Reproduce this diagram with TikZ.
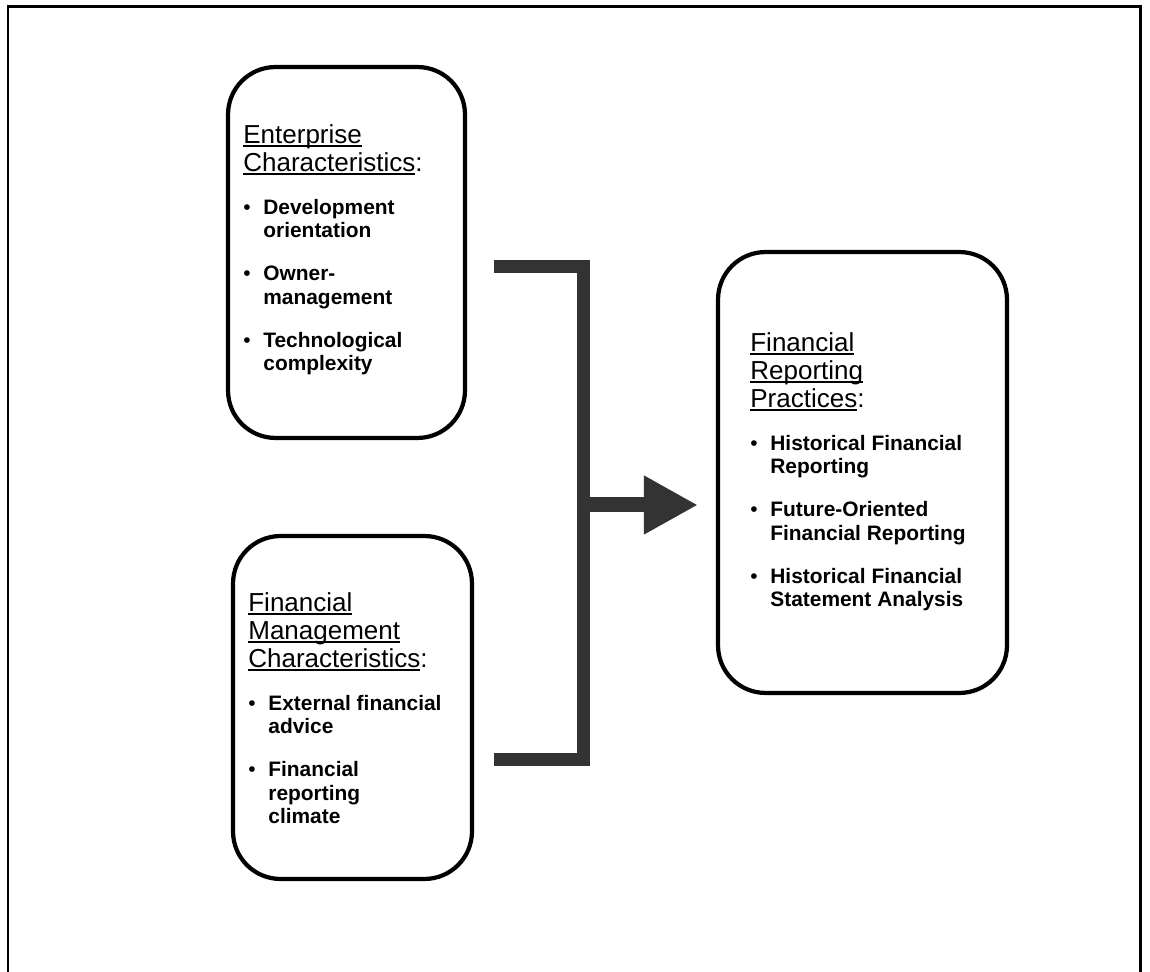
\documentclass[tikz,border=0pt]{standalone}
\usepackage{fontspec}
\setmainfont{Liberation Sans}
\usetikzlibrary{arrows.meta, positioning}
\setlength{\parindent}{0pt}
\newcommand{\hdfont}{\fontsize{14.8pt}{15.9pt}\selectfont}
\newcommand{\itfont}{\fontsize{11.9pt}{13.4pt}\selectfont\bfseries}
\newcommand{\hdul}[1]{\leavevmode\setbox0\hbox{#1}\rlap{\rule[-2.4pt]{\wd0}{1.1pt}}\box0}
\newcommand{\bitem}[1]{\par\vspace{11.1pt}\hangindent=11.4pt\hangafter=1\noindent\makebox[11.4pt][l]{\mdseries\textbullet}#1\par}

\begin{document}
\begin{tikzpicture}[
    x=0.02cm, y=-0.02cm,
    frame/.style={draw, line width=1.7pt},
    panel/.style={draw, rectangle, rounded corners=0.95cm, line width=2.4pt},
    paneltext/.style={anchor=north west, inner sep=0pt, align=left},
    bracket/.style={draw=black!80, line width=0.26cm},
    flow/.style={draw=black!80, line width=0.3cm, -{Triangle[length=1.08cm, width=1.1cm]}}
]
    \useasboundingbox (0,0) rectangle (1150,972);
    \draw[frame] (8,972) -- (8,7) -- (1140,7) -- (1140,972);

    % Boxes
    \node[panel, minimum width=4.74cm, minimum height=7.42cm] (entbox) at (346.5,252.5) {};
    \node[panel, minimum width=4.78cm, minimum height=6.86cm] (finbox) at (352.5,707.5) {};
    \node[panel, minimum width=5.78cm, minimum height=8.82cm] (repbox) at (862.5,472.5) {};

    % Texts
    \node[paneltext, text width=4.3cm] (enttext) at (243,124) {%
        {\hdfont\hdul{Enterprise}\newline\hdul{Characteristics}:\par}\itfont
        \bitem{Development\newline orientation}
        \bitem{Owner-\newline management}
        \bitem{Technological\newline complexity}};
    \node[paneltext, text width=4.4cm] (fintext) at (248,592) {%
        {\hdfont\hdul{Financial}\newline\hdul{Management}\newline\hdul{Characteristics}:\par}\itfont
        \bitem{External financial\newline advice}
        \bitem{Financial\newline reporting\newline climate}};
    \node[paneltext, text width=5cm] (reptext) at (750,332) {%
        {\hdfont\hdul{Financial}\newline\hdul{Reporting}\newline\hdul{Practices}:\par}\itfont
        \bitem{Historical Financial\newline Reporting}
        \bitem{Future-Oriented\newline Financial Reporting}
        \bitem{Historical Financial\newline Statement Analysis}};

    % Bracket and arrow
    \coordinate (jtop) at (494,267);
    \coordinate (jbot) at (494,760);
    \coordinate (jmid) at (583,505);
    \draw[bracket] (jtop) -- (583,267) -- (583,760) -- (jbot);
    \draw[flow, shorten >=0.36cm] (jmid) -- (jmid -| repbox.west);

\end{tikzpicture}
\end{document}
